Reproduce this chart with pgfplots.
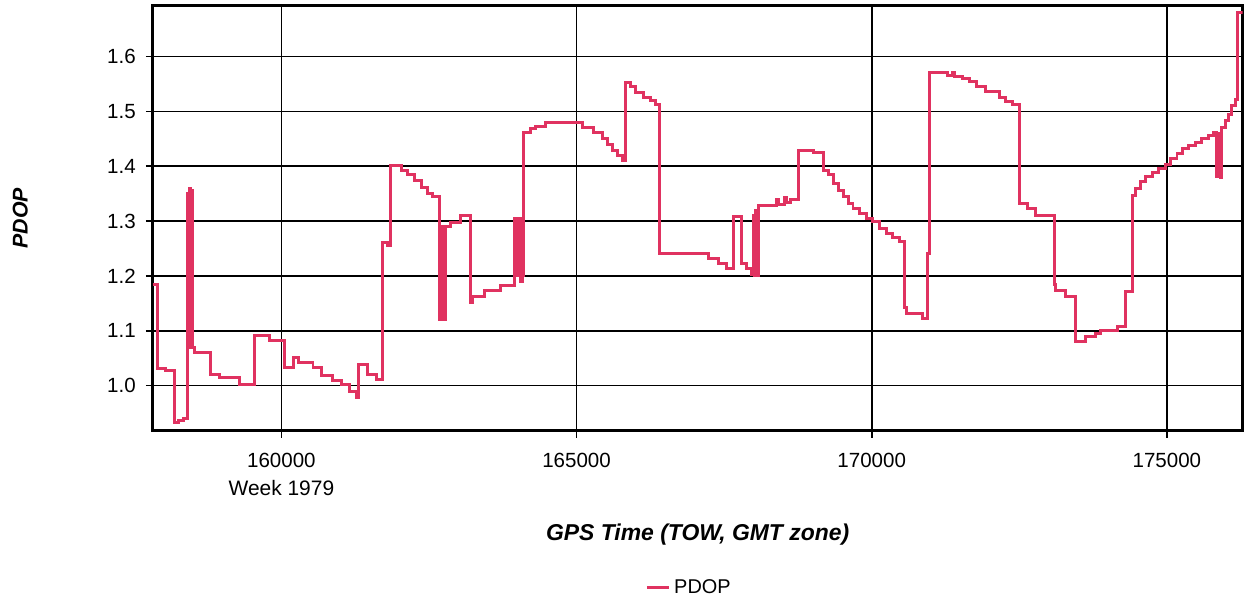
\documentclass[border=0pt]{standalone}
\usepackage{fontspec}
\setmainfont{Liberation Sans}
\usepackage{pgfplots}
\pgfplotsset{compat=1.18}
\definecolor{pdop}{RGB}{224,50,96}

\begin{document}
\begin{tikzpicture}
\begin{axis}[
  name=ax,
  width=546.7pt, height=213pt, scale only axis,
  xmin=157820, xmax=176282, ymin=0.918, ymax=1.692,
  xtick={160000,165000,170000,175000},
  xticklabels={160000,165000,170000,175000},
  ytick={1.0,1.1,1.2,1.3,1.4,1.5,1.6},
  yticklabels={1.0,1.1,1.2,1.3,1.4,1.5,1.6},
  scaled x ticks=false,
  grid=major,
  major grid style={black, line width=0.8pt},
  axis line style={black, line width=1.5pt},
  tick style={black, line width=0.8pt},
  tick align=outside, major tick length=3.5pt,
  xtick pos=bottom, ytick pos=left,
  tick label style={font=\fontsize{10.3}{12}\selectfont},
  xticklabel style={yshift=-4.5pt},
  yticklabel style={xshift=-1.5pt},
  xlabel={\bfseries\itshape GPS Time (TOW, GMT zone)},
  ylabel={\bfseries\itshape PDOP},
  xlabel style={yshift=-21pt, font=\fontsize{11.5}{13}\selectfont},
  ylabel style={yshift=33pt, font=\fontsize{10.7}{12}\selectfont},
  legend style={at={(0.493,-0.37)}, anchor=center, draw=none, fill=none,
    font=\fontsize{10}{12}\selectfont},
  legend image code/.code={\draw[#1] (0pt,0pt) -- (11pt,0pt);},
  clip=true,
]
\addplot[const plot, color=pdop, line width=1.5pt] coordinates {
(157820,1.184) (157906,1.031) (158029,1.027) (158188,0.933) (158255,0.937)
(158340,0.940) (158412,1.350) (158430,1.070) (158446,1.360) (158463,1.070)
(158480,1.355) (158500,1.069) (158531,1.060) (158806,1.021) (158958,1.015)
(159296,1.002) (159549,1.092) (159802,1.082) (160046,1.033) (160198,1.051)
(160282,1.042) (160535,1.033) (160676,1.018) (160873,1.009) (161013,1.002)
(161154,0.990) (161267,0.978) (161306,1.039) (161464,1.021) (161605,1.011)
(161718,1.260) (161802,1.255) (161846,1.402) (162027,1.393) (162140,1.384)
(162251,1.373) (162365,1.362) (162478,1.350) (162562,1.345) (162674,1.120)
(162705,1.290) (162725,1.120) (162750,1.290) (162760,1.120) (162775,1.290)
(162871,1.297) (163040,1.310) (163209,1.151) (163238,1.163) (163434,1.173)
(163716,1.183) (163952,1.305) (163986,1.200) (164008,1.305) (164042,1.190)
(164082,1.200) (164109,1.462) (164223,1.468) (164307,1.472) (164476,1.480)
(165096,1.471) (165292,1.462) (165433,1.450) (165518,1.440) (165602,1.429)
(165687,1.420) (165771,1.411) (165827,1.553) (165912,1.546) (165996,1.535)
(166136,1.526) (166249,1.520) (166334,1.512) (166406,1.241) (167234,1.232)
(167403,1.223) (167545,1.213) (167656,1.308) (167798,1.223) (167883,1.214)
(167967,1.202) (167994,1.310) (168010,1.200) (168030,1.320) (168050,1.200)
(168079,1.329) (168389,1.340) (168420,1.330) (168530,1.342) (168560,1.333)
(168620,1.340) (168754,1.429) (169008,1.425) (169176,1.393) (169261,1.384)
(169345,1.368) (169430,1.356) (169514,1.344) (169599,1.332) (169683,1.323)
(169796,1.314) (169909,1.305) (170021,1.299) (170134,1.287) (170247,1.278)
(170359,1.270) (170472,1.263) (170556,1.142) (170585,1.132) (170865,1.123)
(170950,1.240) (170979,1.571) (171288,1.566) (171372,1.570) (171401,1.563)
(171541,1.559) (171654,1.555) (171767,1.546) (171936,1.536) (172161,1.526)
(172274,1.517) (172385,1.512) (172499,1.332) (172639,1.323) (172781,1.310)
(173090,1.184) (173119,1.173) (173287,1.163) (173456,1.081) (173625,1.090)
(173794,1.095) (173879,1.100) (174159,1.108) (174301,1.172) (174424,1.347)
(174470,1.359) (174554,1.372) (174638,1.381) (174750,1.388) (174863,1.396)
(174976,1.403) (175061,1.414) (175172,1.423) (175257,1.432) (175370,1.438)
(175483,1.444) (175594,1.450) (175708,1.456) (175792,1.462) (175848,1.381)
(175865,1.460) (175880,1.385) (175900,1.460) (175915,1.380) (175932,1.471)
(175990,1.483) (176046,1.495) (176101,1.511) (176159,1.522) (176203,1.680)
(176282,1.682)
};
\legend{PDOP}
\coordinate (wk) at (axis cs:160000,0.918);
\end{axis}
\node[font=\fontsize{10.5}{12}\selectfont] at ([yshift=-29pt]wk) {Week 1979};
\path ([yshift=3pt]ax.north);
\path ([xshift=-3pt]ax.outer west);
\end{tikzpicture}
\end{document}
